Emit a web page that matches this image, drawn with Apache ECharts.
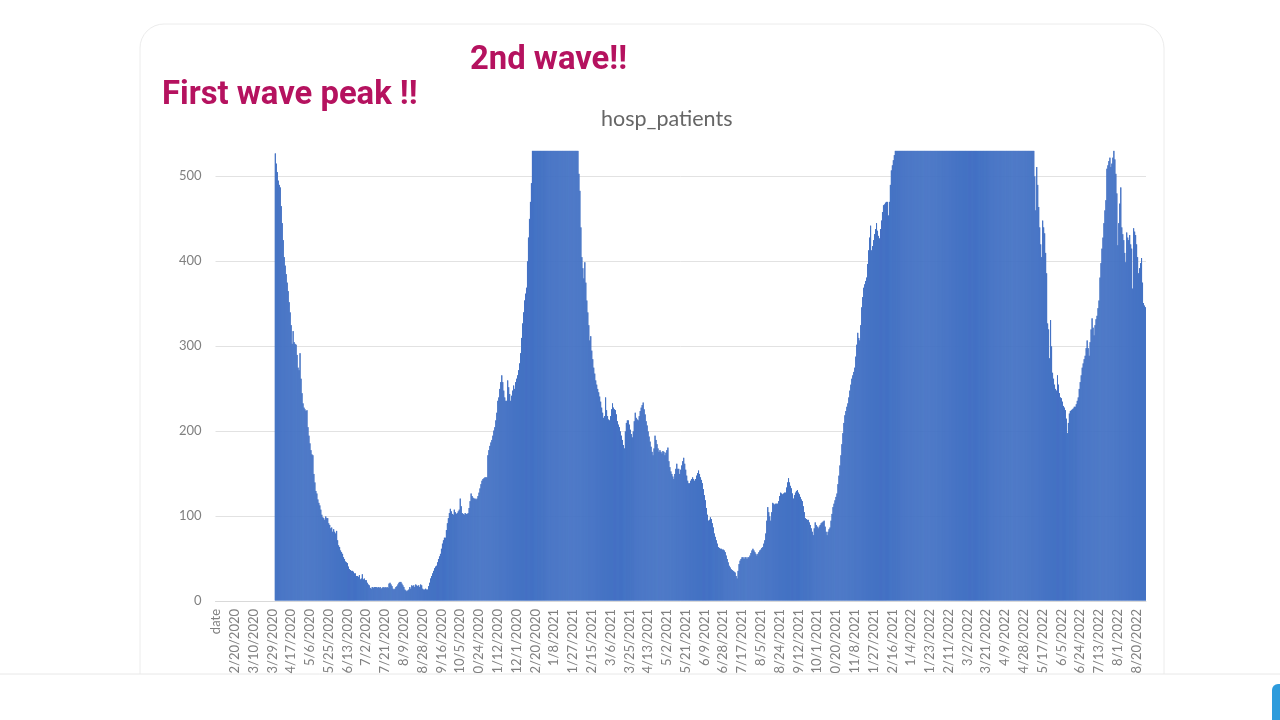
<!DOCTYPE html>
<html>
<head>
<meta charset="utf-8">
<title>hosp_patients</title>
<script src="https://cdn.jsdelivr.net/npm/echarts@6/dist/echarts.min.js"></script>
<style>
html, body { margin: 0; padding: 0; background: #fff; }
#main { width: 1280px; height: 720px; }
</style>
</head>
<body>
<div id="main"></div>
<script>
// labels shown every 19 days on the category axis
const tickLabels = ['date','2/20/2020','3/10/2020','3/29/2020','4/17/2020','5/6/2020','5/25/2020','6/13/2020','7/2/2020','7/21/2020','8/9/2020','8/28/2020','9/16/2020','10/5/2020','10/24/2020','11/12/2020','12/1/2020','12/20/2020','1/8/2021','1/27/2021','2/15/2021','3/6/2021','3/25/2021','4/13/2021','5/2/2021','5/21/2021','6/9/2021','6/28/2021','7/17/2021','8/5/2021','8/24/2021','9/12/2021','10/1/2021','10/20/2021','11/8/2021','11/27/2021','12/16/2021','1/4/2022','1/23/2022','2/11/2022','3/2/2022','3/21/2022','4/9/2022','4/28/2022','5/17/2022','6/5/2022','6/24/2022','7/13/2022','8/1/2022','8/20/2022'];

// one value per day. 530 = cut off by the top of the chart
const firstWave = [
527,515,505,495,490,487,465,445,425,405,
395,385,375,365,352,340,325,303,318,305,
303,302,290,275,272,292,262,245,233,228,
226,224,225,205,195,186,178,173,172,150,
140,130,127,120,116,113,108,102,99,98,
96,100,98,98,92,90,86,87,82,85,
82,80,83,72,66,64,60,58,56,52,
50,47,46,45,41,38,37,36,36,35,
33,33,30,30,29,31,26,27,32,26,
27,25,25,22,20,19,16,15,17,16,
17,17,17,16,17,16,17,15,16,17,16,
17,16,17,16,21,22,20,18,15,14,
15,17,18,20,22,23,23,21,19,17,
14,13,12,13,14,17,15,19,18,19,
17,20,19,18,19,17,20,19,15,14,
14,15,14,14,18,22,27,30,33,36,39,
41,42,46,50,53,56,62,68,72,75,
75,84,92,98,104,109,106,103,102,108,
105,103,104,106,108,121,112,104,103,102,
104,103,103,104,110,118,127,124,122,121,121
];
const secondWaveRise = [
120,121,124,128,133,138,142,144,145,146,
146,146,172,178,183,187,190,195,201,205,
213,222,236,240,250,258,266,258,248,240,
236,236,260,252,244,236,242,248,254,250,
258,262,266,272,280,292,310,327,340,354,
362,369,400,428,450,470,492,530,530,530,
530,530,530,530,530,530,530,530,530,530,
530,530,530,530,530,530,530,530,530,530,
530,530,530,530,530,530,530,530,530,530,
530,530,530,530,530,530,530,530,530,530,
530,530,530,530
];
const secondWaveFall = [
503,483,440,405,392,380,399,375,354,340,
325,307,312,295,285,275,268,260,255,250,
246,241,235,228,222,216,218,240,225,218,
214,213,218,226,233,228,226,225,220,212,
208,205,200,195,190,184,180,200,210,213,213,
208,202,197,193,200,212,222,216,214,213,
218,224,228,231,234,226,220,212,207,200,
194,188,182,176,172,180,195,190,185,180,
176,178,176,174,177,176,172,175,178,181,
165,158,153,150,147,144,150,156,162,156,156,
150,155,160,165,169,162,155,148,142,139,
139,142,144,146,144,142,144,148,151,154,
150,146,143,139,132,125,119,110,102,95,
96,99,97,92,87,80,76,72,68,64,
63,62,62,61,61,60,58,54,50,46,
42,40,38,37,36,35,34,30,27,36,
44,48,50,52,52,50,52,52,50,52
];
const thirdWaveRise = [
52,54,57,60,62,60,58,56,54,56,
58,60,61,63,64,68,72,80,95,111,
105,100,95,105,116,115,114,115,115,115,118,
124,128,127,126,127,128,128,134,140,145,
140,136,133,127,121,125,128,130,131,128,
126,123,120,118,112,105,98,97,96,96,
93,90,86,82,78,86,93,90,88,86,
88,90,92,93,94,95,88,82,78,82,
85,87,95,103,111,115,119,123,127,138,
148,160,172,185,198,210,219,224,229,233,
240,248,255,262,266,270,275,288,302,316,
310,307,325,346,358,369,373,377,381,397,
413,428,442,413,418,425,432,438,445,436,
430,427,438,448,458,466,467,469,470,470,
454,470,490,507,513,519,525,530
];
const thirdWaveTop = [
530,530,530,530,530,530,530,530,530,530,
530,530,530,530,530,530,530,530,530,530,
530,530,530,530,530,530,530,530,530,530,
530,530,530,530,530,530,530,530,530,530,
530,530,530,530,530,530,530,530,530,530,
530,530,530,530,530,530,530,530,530,530,
530,530,530,530,530,530,530,530,530,530,
530,530,530,530,530,530,530,530,530,530,
530,530,530,530,530,530,530,530,530,530,
530,530,530,530,530,530,530,530,530,530,
530,530,530,530,530,530,530,530,530,530,
530,530,530,530,530,530,530,530,530,530,
530,530,530,530,530,530,530,530,530,530,
530,530,530,530,530,530,530,530,530,530
];
const lastWave = [
500,460,511,490,464,440,420,405,448,440,
433,410,386,327,320,286,331,300,269,262,
255,250,248,266,255,245,240,239,235,230,
228,225,215,198,210,221,224,225,226,227,
229,229,232,236,240,250,258,266,275,280,285,
289,298,307,298,289,305,320,333,322,313,
325,332,336,345,354,381,398,415,428,445,
460,472,509,513,518,522,511,515,522,530,
520,503,480,419,445,468,487,440,432,425,
410,399,434,428,425,431,420,415,368,439,
435,431,420,405,386,392,398,404,375,351,
348,346
];

const hospPatients = Array(60).fill(null).concat(firstWave, secondWaveRise, secondWaveFall, thirdWaveRise, thirdWaveTop, lastWave);
const categories = hospPatients.map((v, i) => tickLabels[i / 19] || '');

let myChart = echarts.init(document.getElementById('main'));

let option = {
    animation: false,
    backgroundColor: '#fff',
    title: {
        text: 'hosp_patients',
        left: 596,
        top: 103,
        textStyle: { fontFamily: 'Lato', fontSize: 21.5, fontWeight: 'normal', color: '#666' }
    },
    grid: { left: 215.5, width: 930.5, top: 150.4, height: 450.6 },
    xAxis: {
        type: 'category',
        data: categories,
        axisTick: { show: false },
        axisLine: { lineStyle: { color: '#d9d9d9' } },
        axisLabel: {
            interval: 18,
            rotate: 90,
            margin: 8,
            fontFamily: 'Lato',
            fontSize: 13,
            color: '#808080'
        }
    },
    yAxis: {
        type: 'value',
        min: 0,
        max: 530,
        interval: 100,
        axisLine: { show: false },
        axisTick: { show: false },
        axisLabel: { showMaxLabel: false, margin: 14, fontFamily: 'Lato', fontSize: 13, color: '#808080' },
        splitLine: { showMaxLine: false, lineStyle: { color: '#e2e2e2', width: 1 } }
    },
    series: [
        {
            name: 'hosp_patients',
            type: 'bar',
            data: hospPatients,
            barCategoryGap: '0%',
            itemStyle: { color: '#4472c4', borderColor: '#4472c4', borderWidth: 1 }
        }
    ],
    graphic: [
        { type: 'rect', z: -1, shape: { x: 140, y: 24, width: 1024, height: 700, r: 24 }, style: { fill: '#fff', stroke: '#ececec', lineWidth: 1 } },
        { type: 'text', z: 10, x: 162, y: 79, style: { text: 'First wave peak !!', fontFamily: 'Roboto', fontWeight: 'bold', fontSize: 32.8, fill: '#b5125f' } },
        { type: 'text', z: 10, x: 470, y: 44, style: { text: '2nd wave!!', fontFamily: 'Roboto', fontWeight: 'bold', fontSize: 32.8, fill: '#b5125f' } },
        // page footer covers the long tick labels
        { type: 'rect', z: 100, shape: { x: -5, y: 674, width: 1290, height: 60 }, style: { fill: '#fff', stroke: '#e8e8e8', lineWidth: 1 } },
        { type: 'rect', z: 101, shape: { x: 1272, y: 684, width: 20, height: 50, r: 6 }, style: { fill: '#2d9bdc' } }
    ]
};
myChart.setOption(option);
</script>
</body>
</html>
